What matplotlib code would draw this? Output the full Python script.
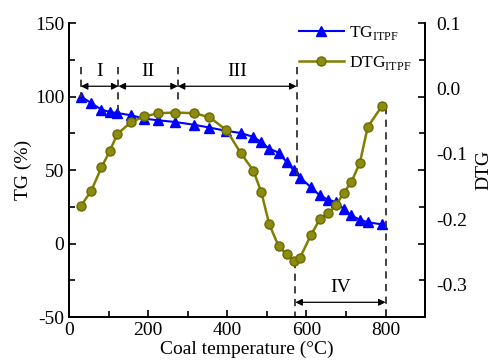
import matplotlib
matplotlib.use('Agg')
import matplotlib.pyplot as plt
from matplotlib.ticker import MultipleLocator

plt.rcParams['font.family'] = 'Liberation Serif'
plt.rcParams['mathtext.fontset'] = 'custom'
plt.rcParams['mathtext.rm'] = 'Liberation Serif'
plt.rcParams['axes.unicode_minus'] = False

# data
temp = [30, 56, 82, 103, 122, 156, 190, 226, 268, 316, 355, 398, 434, 466, 486,
        506, 530, 550, 568, 584, 611, 634, 655, 675, 694, 713, 735, 755, 791]
tg = [100, 95.6, 91.1, 89.5, 88.8, 87.3, 85, 83.8, 82.7, 80.8, 78.9, 76.6, 75.2,
      72.5, 69, 64.5, 61.8, 55.4, 49.8, 44.8, 38.4, 32.7, 29.8, 28.2, 23.6, 19.1,
      16.2, 14.5, 13]
dtg = [-0.18, -0.157, -0.121, -0.096, -0.07, -0.052, -0.043, -0.038, -0.037,
       -0.038, -0.044, -0.064, -0.099, -0.126, -0.159, -0.208, -0.242, -0.254,
       -0.264, -0.259, -0.225, -0.2, -0.191, -0.179, -0.16, -0.144, -0.114,
       -0.059, -0.027]

# stage boundaries (temperature, line top, line bottom) in TG units
top_lines = [(30, 120, 100), (125, 120, 90), (275, 120, 94), (575, 120, 45)]
bottom_lines = [(572, -12, -50), (800, 93, -50)]
stages = ['I', 'II', 'III', 'IV']
stage_spans = [(30, 125), (125, 275), (275, 575), (572, 800)]

fig = plt.figure(figsize=(4.94, 3.62), dpi=100)
ax = fig.add_axes([0.1397, 0.1243, 0.7209, 0.812])
ax2 = ax.twinx()

l1, = ax.plot(temp, tg, '-^', color='#0000ff', lw=1.5, ms=7, label='TG$_{\\rm ITPF}$')
l2, = ax2.plot(temp, dtg, '-o', color='#808000', lw=1.8, ms=6.5, mfc='#8c8c10',
               mec='#6b6b00', label='DTG$_{\\rm ITPF}$')

for x, y0, y1 in top_lines + bottom_lines:
    ax.plot([x, x], [y0, y1], '--', color='#333333', lw=1.3, dashes=(4, 3))

arrow_y = [107, 107, 107, -40]
label_y = [117, 117, 117, -30]
for name, (a, b), ay, ly in zip(stages, stage_spans, arrow_y, label_y):
    ax.annotate('', xy=(a, ay), xytext=(b, ay),
                arrowprops=dict(arrowstyle='<|-|>', color='black', lw=0.9,
                                mutation_scale=10, shrinkA=0, shrinkB=0))
    ax.text((a + b) / 2, ly, name, ha='center', va='center', fontsize=14)

ax.set_xlim(0, 900)
ax.set_ylim(-50, 150)
ax2.set_ylim(-0.35, 0.1)
ax.set_xticks([0, 200, 400, 600, 800])
ax.xaxis.set_minor_locator(MultipleLocator(100))
ax.yaxis.set_major_locator(MultipleLocator(50))
ax.yaxis.set_minor_locator(MultipleLocator(25))
ax.tick_params(which='both', direction='in', right=True, top=False, labelsize=14,
               width=1.2)
ax.tick_params(which='major', length=5)
ax.tick_params(which='minor', length=4)
ax2.set_yticks([0.1, 0.0, -0.1, -0.2, -0.3])
ax2.set_yticklabels(['0.1', '0.0', '-0.1', '-0.2', '-0.3'])
ax2.tick_params(length=0, labelsize=14, pad=8)

for a in (ax, ax2):
    a.spines['top'].set_visible(False)
    for s in ('left', 'right', 'bottom'):
        a.spines[s].set_linewidth(1.3)

ax.set_xlabel('Coal temperature (\u00b0C)', fontsize=14, labelpad=1)
ax.set_ylabel('TG (%)', fontsize=14, labelpad=2)
ax2.set_ylabel('DTG', fontsize=14, labelpad=6)

ax.legend([l1, l2], [l1.get_label(), l2.get_label()], loc='upper right',
          bbox_to_anchor=(1.005, 1.05), frameon=False, fontsize=12.5,
          handlelength=2.6, handletextpad=0.3, labelspacing=0.7)

fig.savefig('out.png', dpi=100)
